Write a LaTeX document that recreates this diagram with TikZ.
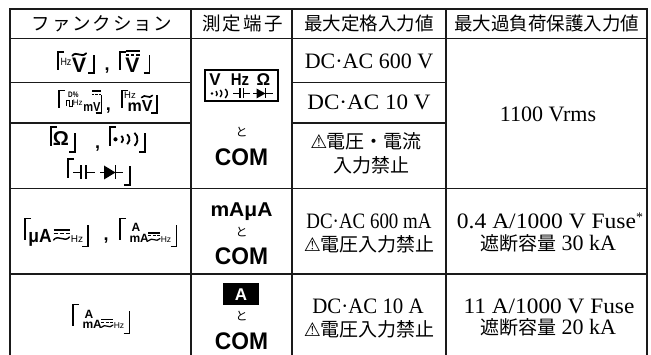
\documentclass[tikz,border=0pt]{standalone}
\usepackage{fontspec}
\setmainfont{Liberation Serif}
\newfontfamily\jp{Noto Sans CJK JP}
\newfontfamily\jpsp{Noto Sans CJK JP}[LetterSpace=10]
\newfontfamily\jpspb{Noto Sans CJK JP}[LetterSpace=12]
\newfontfamily\hv{Liberation Sans}
\newfontfamily\djv{DejaVu Sans}
\newcommand\fs[1]{\fontsize{#1}{#1}\selectfont}
\definecolor{ln}{HTML}{1A1A1A}
\tikzset{
 gridline/.style={draw=ln,line width=1.4pt},
 outerline/.style={draw=ln,line width=2pt},
 brk/.style={draw=black,line width=1.3pt,line join=miter},
 jt/.style={inner sep=0,font=\jp\fs{19}},
 lt/.style={inner sep=0,font=\rmfamily\fs{22}},
 hd/.style={inner sep=0,font=\jp\fs{18.5}},
 bs/.style={inner sep=0,font=\hv\bfseries\fs{#1}},
 rs/.style={inner sep=0,font=\hv\fs{#1}},
}
\newcommand\warn{{\djv\fs{19}⚠}\kern-1pt}
% brackets
\newcommand\lbrk[3]{\draw[brk] (#1+6,#2) -- (#1,#2) -- (#1,#3);}
\newcommand\rbrk[3]{\draw[brk] (#1-6,#2) -- (#1,#2) -- (#1,#3);}
% tilde: x y halfwidth amp lw
\newcommand\tld[5]{\draw[line width=#5pt,line cap=round] (#1-#3,#2+#4*0.5) .. controls (#1-#3*0.35,#2-#4*1.6) and (#1+#3*0.35,#2+#4*1.6) .. (#1+#3,#2-#4*0.5);}
% dc symbol: x ybar halfwidth gap lw
\newcommand\dcs[5]{\draw[line width=#5pt] (#1-#3,#2) -- (#1+#3,#2);
 \draw[line width=#5pt] (#1-#3,#2+#4) -- (#1-#3*0.5,#2+#4) (#1-#3*0.25,#2+#4) -- (#1+#3*0.25,#2+#4) (#1+#3*0.5,#2+#4) -- (#1+#3,#2+#4);}
% ac+dc symbol
\newcommand\acdc[7]{\dcs{#1}{#2}{#3}{#4}{#5}\tld{#1}{#6}{#3}{#7}{#5}}
% sound symbol: x y scale lw
\newcommand\snd[4]{%
 \fill (#1,#2) circle ({2.1*#3});
 \foreach \e/\hh in {7.5/3.5,14/5,22/6.5}{%
  \pgfmathsetmacro\rr{\hh/0.766*#3}%
  \pgfmathsetmacro\cx{#1+\e*#3-\rr}%
  \draw[line width=#4pt] (\cx,#2) ++(-50:\rr) arc[start angle=-50,end angle=50,radius=\rr];}}
% capacitor: x1 y p1 p2 x2 hh lw
\newcommand\capc[7]{\draw[line width=#7pt] (#1,#2) -- (#3,#2) (#4,#2) -- (#5,#2);
 \draw[line width=#7pt] (#3,#2-#6) -- (#3,#2+#6) (#4,#2-#6) -- (#4,#2+#6);}
% diode: x1 y t1 t2 x2 hh lw
\newcommand\diode[7]{\draw[line width=#7pt] (#1,#2) -- (#5,#2);
 \fill (#3,#2-#6) -- (#4,#2) -- (#3,#2+#6) -- cycle;
 \draw[line width=#7pt] (#4,#2-#6) -- (#4,#2+#6);}
% A / mA acdc Hz icon
\newcommand\iconAmA{%
 \lbrk{120}{218.3}{240}
 \node[bs=12,anchor=base] at (136,231.7) {A};
 \node[bs=12,anchor=base] at (139.2,242.3) {mA};
 \acdc{154.2}{233}{5.8}{2.8}{1.2}{239.7}{2.2}
 \node[rs=8.5,anchor=base] at (166,242.3) {Hz};
 \rbrk{176.7}{246.7}{225}}
\begin{document}
\begin{tikzpicture}[x=1pt,y=-1pt]
\useasboundingbox (0,0) rectangle (651,355);
% table rules
\draw[outerline] (9.5,355) -- (9.5,9) -- (647,9) -- (647,355);
\draw[gridline] (9.5,38.5) -- (647,38.5);
\draw[gridline] (191,9) -- (191,355);
\draw[gridline] (292,9) -- (292,355);
\draw[gridline] (446,9) -- (446,355);
\draw[gridline] (9.5,82.5) -- (191,82.5) (292,82.5) -- (446,82.5);
\draw[gridline] (9.5,123) -- (191,123) (292,123) -- (446,123);
\draw[gridline] (9.5,188.5) -- (647,188.5);
\draw[gridline] (9.5,274) -- (647,274);
% header
\node[hd,font=\jpsp\fs{18.5}] (h1) at (102,24) {ファンクション};
\node[hd,font=\jpspb\fs{18.5}] (h2) at (242.5,24) {測定端子};
\node[hd] (h3) at (369,24) {最大定格入力値};
\node[hd] (h4) at (546.5,24) {最大過負荷保護入力値};
% column 3
\node[lt,anchor=base] (r1c3) at (369,68.3) {DC·AC 600 V};
\node[lt,anchor=base,xscale=1.05] (r2c3) at (369,110) {DC·AC 10 V};
\node[jt] (r3c3a) at (366,141) {\warn 電圧・電流};
\node[jt] (r3c3b) at (371,165) {入力禁止};
\node[lt,anchor=base,xscale=0.86] (r4c3a) at (369,228.3) {DC·AC 600 mA};
\node[jt] (r4c3b) at (369,244.7) {\warn 電圧入力禁止};
\node[lt,anchor=base,xscale=0.95] (r5c3a) at (368,313.3) {DC·AC 10 A};
\node[jt] (r5c3b) at (369,329) {\warn 電圧入力禁止};
% column 4
\node[lt,anchor=base] (c4a) at (548,121.7) {1100 Vrms};
\node[lt,anchor=base,xscale=1.07] (r4c4a) at (550,228.3) {0.4 A/1000 V Fuse\raisebox{7pt}{\fs{13}*}};
\node[lt,anchor=base] (r4c4b) at (548,251) {{\jp\fs{19}遮断容量} 30 kA};
\node[lt,anchor=base,xscale=1.06] (r5c4a) at (549,313.3) {11 A/1000 V Fuse};
\node[lt,anchor=base] (r5c4b) at (548,335) {{\jp\fs{19}遮断容量} 20 kA};
% column 2
\draw[line width=1.5pt] (205,70) rectangle (278,101);
\node[bs=17,anchor=base] (bV) at (215,86) {V};
\node[bs=17,anchor=base,xscale=0.88] (bHz) at (240,86) {Hz};
\node[bs=17,anchor=base] (bO) at (263.5,86) {Ω};
\snd{212}{93.5}{0.7}{1.4}
\capc{233}{93.5}{240}{243.5}{250}{5}{1.5}
\diode{253}{93.5}{256.5}{265.5}{273}{5}{1.5}
\node[inner sep=0,font=\jp\fs{12}] (to1) at (241.5,132.5) {と};
\node[bs=24,anchor=base,xscale=0.95] (com1) at (241.5,166) {COM};
\node[bs=20,anchor=base,xscale=1.05] (mamu) at (241.5,216.7) {mAμA};
\node[inner sep=0,font=\jp\fs{12}] (to2) at (241.5,232) {と};
\node[bs=24,anchor=base,xscale=0.95] (com2) at (241.5,265) {COM};
\fill[black] (223,283) rectangle (259,305);
\node[bs=17,text=white] (bigA) at (241,294.5) {A};
\node[inner sep=0,font=\jp\fs{12}] (to3) at (241.5,316) {と};
\node[bs=24,anchor=base,xscale=0.95] (com3) at (241.5,349.5) {COM};
% column 1, row 1
\lbrk{58}{52}{70}
\node[rs=10.5,xscale=0.85] (hzA) at (66,61.5) {Hz};
\node[bs=21,anchor=base] (vA) at (79.2,73) {V};
\tld{79.2}{54.5}{7}{2.6}{1.8}
\rbrk{94}{73}{55}
\node[bs=18,anchor=base] (cm1) at (107,70.5) {,};
\lbrk{120}{52}{70}
\node[bs=21,anchor=base] (vB) at (132.5,73) {V};
\dcs{132.5}{51}{7}{4}{1.4}
\rbrk{149.5}{73}{55}
% row 2
\lbrk{59}{90.5}{108}
\node[bs=8,xscale=0.8] (dpc) at (73.3,95) {D\%};
\draw[line width=0.9pt] (66.7,106) -- (66.7,100) -- (69.7,100) -- (69.7,106) -- (72.7,106) -- (72.7,100);
\node[rs=8] (hzC) at (77.8,102.7) {Hz};
\node[bs=13,anchor=base,xscale=0.85] (mvC) at (92,111.7) {mV};
\dcs{96.5}{91}{4.5}{3.5}{1.2}
\rbrk{101.5}{113}{95}
\node[bs=18,anchor=base] (cm2) at (108.3,110.5) {,};
\lbrk{122}{90.5}{108}
\node[rs=9.5] (hzD) at (130,95) {Hz};
\node[bs=16,anchor=base] (mvD) at (140,112) {mV};
\tld{147}{96.5}{5.5}{2.2}{1.6}
\rbrk{157}{113}{95}
% row 3
\lbrk{51}{127}{146}
\node[bs=20,anchor=base] (om) at (60.8,146) {Ω};
\rbrk{75}{152}{133}
\node[bs=18,anchor=base] (cm3) at (97.7,149) {,};
\lbrk{110}{127}{146}
\snd{115.5}{139.3}{1}{1.8}
\rbrk{145}{152}{133}
\lbrk{68}{159}{178}
\capc{73}{172.5}{81}{86}{95}{7}{1.6}
\diode{100}{172.5}{104}{115.5}{123}{7}{1.6}
\rbrk{130}{185}{166}
% row 4
\lbrk{25}{218.3}{240}
\node[bs=19,anchor=base,xscale=0.92] (muA) at (40,242.3) {μA};
\acdc{61.5}{230}{8}{3.5}{1.4}{238.5}{3}
\node[rs=10,anchor=base] (hzH) at (77,242.3) {Hz};
\rbrk{88}{246.7}{225}
\node[bs=18,anchor=base] (cm4) at (106,241) {,};
\iconAmA
% row 5
\begin{scope}[shift={(-47,86.5)}]
\iconAmA
\end{scope}
\end{tikzpicture}
\end{document}
